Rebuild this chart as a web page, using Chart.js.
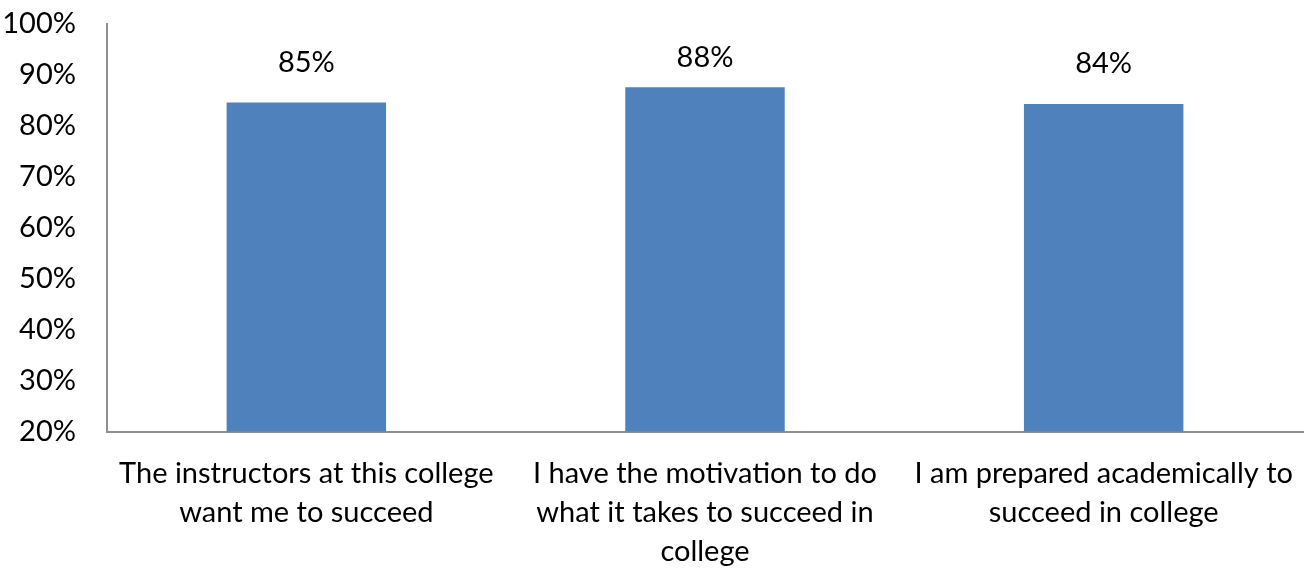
<!DOCTYPE html>
<html>
<head>
<meta charset="utf-8">
<script src="https://cdn.jsdelivr.net/npm/chart.js@4.4.1/dist/chart.umd.min.js"></script>
<style>
  html, body { margin: 0; padding: 0; background: #fff; }
  #wrap { width: 1310px; height: 575px; position: relative; }
</style>
</head>
<body>
<div id="wrap"><canvas id="surveyChart"></canvas></div>
<script>
// survey statements (wrapped as in the original)
const categories = [
  ['The instructors at this college', 'want me to succeed'],
  ['I have the motivation to do', 'what it takes to succeed in', 'college'],
  ['I am prepared academically to', 'succeed in college']
];
const agreePct = [84.6, 87.6, 84.3];
const yTicks = [20, 30, 40, 50, 60, 70, 80, 90, 100];

const FONT = 'Lato, "Open Sans", sans-serif';

// value labels above each bar
const barLabels = {
  id: 'barLabels',
  afterDatasetsDraw(chart) {
    const ctx = chart.ctx;
    const meta = chart.getDatasetMeta(0);
    ctx.save();
    ctx.font = '29px ' + FONT;
    ctx.fillStyle = '#000';
    ctx.textAlign = 'center';
    ctx.textBaseline = 'middle';
    meta.data.forEach((bar, i) => {
      const y = Math.max(bar.y - 40, chart.chartArea.top + 34);
      ctx.fillText(Math.round(agreePct[i]) + '%', bar.x, y);
    });
    ctx.restore();
  }
};

const ctx = document.getElementById('surveyChart');
new Chart(ctx, {
  type: 'bar',
  data: {
    labels: categories,
    datasets: [{
      data: agreePct,
      backgroundColor: '#4F81BD',
      borderWidth: 0,
      barPercentage: 0.4,
      categoryPercentage: 1.0
    }]
  },
  options: {
    responsive: true,
    maintainAspectRatio: false,
    animation: false,
    layout: {
      padding: { top: 24, right: 7, bottom: 0, left: 0 }
    },
    scales: {
      x: {
        grid: { display: false, drawTicks: false },
        border: { display: true, color: '#8f8f8f', width: 2 },
        ticks: {
          color: '#000',
          padding: 23,
          maxRotation: 0,
          autoSkip: false,
          font: { family: FONT, size: 29, lineHeight: 1.34 }
        },
        afterFit: (scale) => {
          scale.height = 143.5;
          scale.paddingLeft = 0;
          scale.paddingRight = 0;
        }
      },
      y: {
        min: 20,
        max: 100,
        afterBuildTicks: (scale) => {
          scale.ticks = yTicks.map(v => ({ value: v }));
        },
        grid: { display: false, drawTicks: false },
        border: { display: true, color: '#8f8f8f', width: 2 },
        ticks: {
          color: '#000',
          padding: 31,
          font: { family: FONT, size: 29 },
          callback: (value) => value + '%'
        },
        afterFit: (scale) => {
          scale.width = 107;
          scale.paddingTop = 0;
          scale.paddingBottom = 0;
        }
      }
    },
    plugins: {
      legend: { display: false },
      tooltip: { enabled: false }
    }
  },
  plugins: [barLabels]
});
</script>
</body>
</html>
